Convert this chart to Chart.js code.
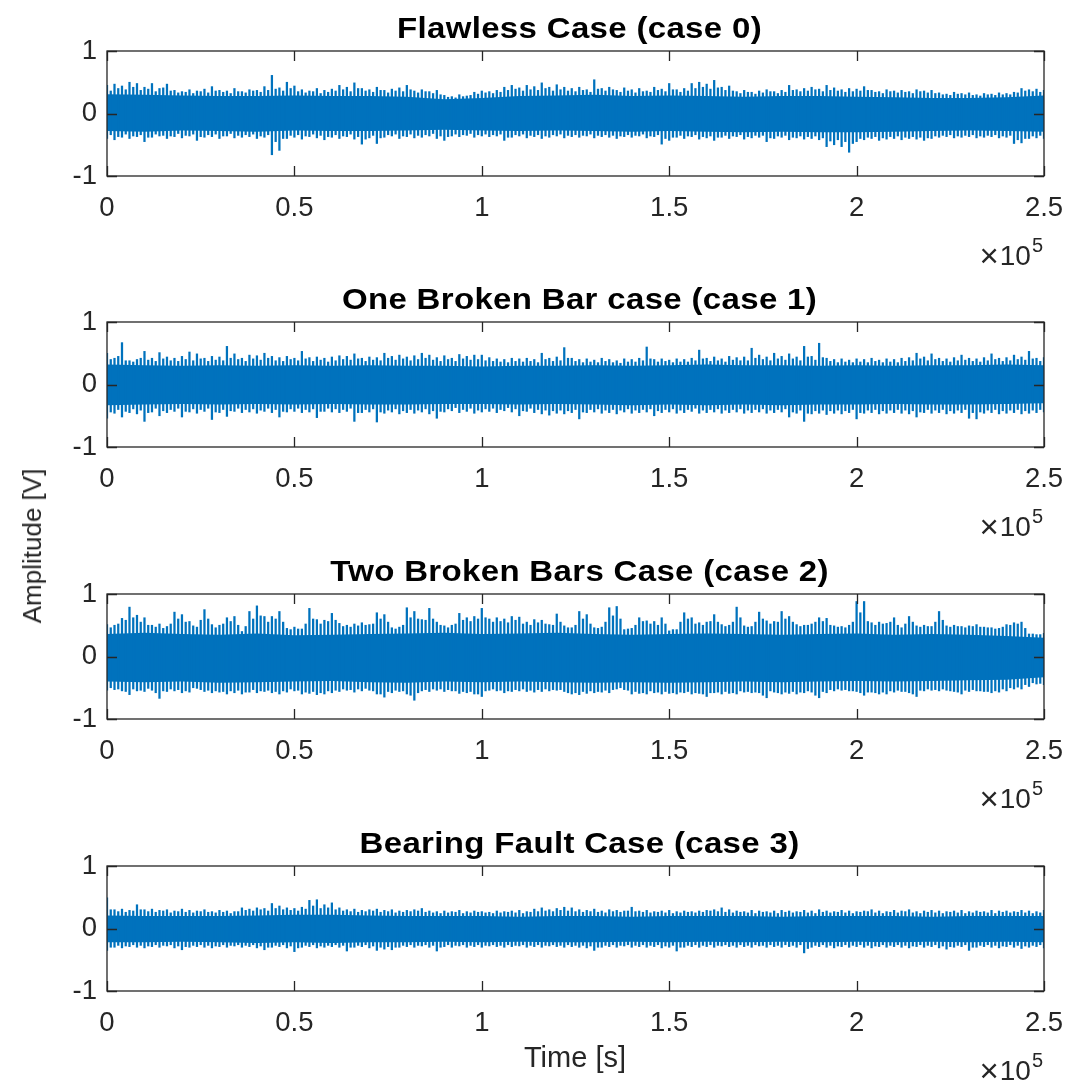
<!DOCTYPE html>
<html>
<head>
<meta charset="utf-8">
<script src="https://cdn.jsdelivr.net/npm/chart.js@4.4.1/dist/chart.umd.min.js"></script>
<style>
  html, body { margin: 0; padding: 0; background: #fff; }
  #fig { position: relative; width: 1072px; height: 1086px; overflow: hidden; background: #fff; }
  .panel { position: absolute; left: 0; width: 1072px; height: 272px; }
  .axlabel { position: absolute; font-family: "Liberation Sans", Arial, Helvetica, sans-serif;
             color: #262626; white-space: nowrap; line-height: 1; }
  #ylab { left: 32px; top: 546px; font-size: 26px; transform: translate(-50%, -50%) rotate(-90deg); }
  #xlab { left: 575px; top: 1057px; font-size: 29px; transform: translate(-50%, -50%); }
</style>
</head>
<body>
<div id="fig">
  <div class="panel" style="top:0px"><canvas id="c0" width="1072" height="272"></canvas></div>
  <div class="panel" style="top:271px"><canvas id="c1" width="1072" height="272"></canvas></div>
  <div class="panel" style="top:543px"><canvas id="c2" width="1072" height="272"></canvas></div>
  <div class="panel" style="top:815px"><canvas id="c3" width="1072" height="272"></canvas></div>
  <div class="axlabel" id="ylab">Amplitude [V]</div>
  <div class="axlabel" id="xlab">Time [s]</div>
</div>
<script>
// Panel titles
const titles = [
  'Flawless Case (case 0)',
  'One Broken Bar case (case 1)',
  'Two Broken Bars Case (case 2)',
  'Bearing Fault Case (case 3)'
];

// Axis ticks
const xTickValues = [0, 50000, 100000, 150000, 200000, 250000];
const xTickLabels = ['0', '0.5', '1', '1.5', '2', '2.5'];
const yTickValues = [-1, 0, 1];
const yTickLabels = ['-1', '0', '1'];

// Peak envelope of each signal: one max/min pair per 2000 samples
const peakStep = 2000;
// Secondary peaks, half-way between the main peak columns
const midOffset = 1000;
// Dense body of each signal, one value per 10000 samples
const bodyStep = 10000;

// ---------- case 0 ----------
const peakHi0 = [
  0.45,0.47,0.44,0.5,0.48,0.42,0.48,0.4,0.47,0.37,
  0.35,0.38,0.36,0.39,0.43,0.37,0.36,0.4,0.35,0.38,
  0.37,0.43,0.61,0.41,0.5,0.44,0.38,0.36,0.4,0.37,
  0.39,0.45,0.42,0.49,0.4,0.38,0.42,0.37,0.39,0.41,
  0.45,0.36,0.38,0.35,0.37,0.29,0.27,0.3,0.28,0.34,
  0.36,0.35,0.37,0.42,0.45,0.41,0.45,0.43,0.49,0.42,
  0.46,0.42,0.4,0.42,0.38,0.54,0.4,0.42,0.37,0.41,
  0.38,0.4,0.36,0.42,0.39,0.48,0.38,0.4,0.48,0.5,
  0.47,0.53,0.42,0.44,0.35,0.37,0.34,0.36,0.38,0.35,
  0.37,0.45,0.38,0.4,0.42,0.39,0.45,0.41,0.38,0.4,
  0.39,0.43,0.37,0.35,0.38,0.36,0.37,0.35,0.38,0.36,
  0.37,0.33,0.31,0.34,0.32,0.33,0.3,0.32,0.31,0.33,
  0.32,0.34,0.4,0.38,0.39,0.37
];
const peakLo0 = [
  -0.4,-0.42,-0.38,-0.4,-0.37,-0.45,-0.38,-0.36,-0.4,-0.37,
  -0.39,-0.36,-0.43,-0.38,-0.37,-0.4,-0.36,-0.39,-0.38,-0.37,
  -0.4,-0.38,-0.66,-0.59,-0.4,-0.38,-0.41,-0.37,-0.39,-0.42,
  -0.38,-0.4,-0.37,-0.41,-0.49,-0.39,-0.48,-0.38,-0.36,-0.4,
  -0.37,-0.39,-0.38,-0.36,-0.4,-0.43,-0.36,-0.37,-0.35,-0.38,
  -0.36,-0.37,-0.36,-0.43,-0.38,-0.36,-0.39,-0.37,-0.4,-0.38,
  -0.36,-0.39,-0.37,-0.38,-0.36,-0.39,-0.37,-0.38,-0.4,-0.37,
  -0.38,-0.36,-0.39,-0.37,-0.49,-0.43,-0.38,-0.4,-0.37,-0.41,
  -0.39,-0.43,-0.38,-0.4,-0.37,-0.41,-0.39,-0.38,-0.45,-0.4,
  -0.38,-0.42,-0.39,-0.41,-0.4,-0.42,-0.53,-0.5,-0.53,-0.62,
  -0.45,-0.42,-0.4,-0.43,-0.41,-0.4,-0.42,-0.4,-0.41,-0.43,
  -0.4,-0.38,-0.37,-0.39,-0.38,-0.37,-0.39,-0.38,-0.37,-0.39,
  -0.38,-0.48,-0.47,-0.4,-0.39,-0.4
];
const midHi0 = [
  0.36,0.4,0.38,0.42,0.37,0.39,0.35,0.41,0.36,0.33,
  0.34,0.32,0.35,0.33,0.36,0.34,0.32,0.35,0.33,0.36,
  0.34,0.37,0.39,0.36,0.4,0.35,0.33,0.35,0.32,0.34,
  0.36,0.38,0.35,0.4,0.36,0.34,0.37,0.33,0.36,0.35,
  0.38,0.33,0.35,0.32,0.3,0.26,0.25,0.27,0.29,0.31,
  0.33,0.32,0.34,0.37,0.39,0.36,0.38,0.37,0.4,0.36,
  0.38,0.36,0.35,0.37,0.34,0.39,0.36,0.38,0.34,0.36,
  0.33,0.35,0.34,0.37,0.35,0.38,0.34,0.36,0.4,0.42,
  0.39,0.41,0.37,0.36,0.32,0.34,0.31,0.33,0.35,0.32,
  0.34,0.37,0.35,0.36,0.38,0.35,0.37,0.36,0.34,0.35,
  0.36,0.37,0.34,0.32,0.35,0.33,0.34,0.32,0.35,0.33,
  0.32,0.3,0.29,0.31,0.3,0.29,0.28,0.3,0.29,0.3,
  0.3,0.33,0.36,0.35,0.34
];
const midLo0 = [
  -0.34,-0.37,-0.33,-0.36,-0.34,-0.38,-0.33,-0.35,-0.36,-0.32,
  -0.35,-0.33,-0.37,-0.34,-0.33,-0.36,-0.32,-0.35,-0.34,-0.33,
  -0.36,-0.34,-0.45,-0.4,-0.35,-0.34,-0.36,-0.33,-0.35,-0.37,
  -0.34,-0.36,-0.33,-0.37,-0.41,-0.35,-0.39,-0.34,-0.33,-0.36,
  -0.33,-0.35,-0.34,-0.32,-0.36,-0.37,-0.33,-0.34,-0.32,-0.34,
  -0.33,-0.34,-0.33,-0.38,-0.34,-0.33,-0.35,-0.34,-0.36,-0.34,
  -0.33,-0.35,-0.34,-0.35,-0.33,-0.35,-0.34,-0.35,-0.36,-0.34,
  -0.35,-0.33,-0.36,-0.34,-0.4,-0.38,-0.35,-0.36,-0.34,-0.37,
  -0.36,-0.38,-0.35,-0.36,-0.34,-0.37,-0.35,-0.35,-0.39,-0.36,
  -0.35,-0.38,-0.36,-0.37,-0.36,-0.39,-0.44,-0.42,-0.45,-0.48,
  -0.4,-0.38,-0.37,-0.39,-0.37,-0.36,-0.38,-0.37,-0.38,-0.39,
  -0.36,-0.35,-0.34,-0.36,-0.35,-0.34,-0.36,-0.35,-0.34,-0.36,
  -0.35,-0.42,-0.4,-0.36,-0.35
];
const bodyHi0 = [0.31,0.3,0.29,0.28,0.28,0.29,0.28,0.28,0.27,0.23,0.25,0.28,0.29,0.3,0.28,0.29,0.28,0.27,0.28,0.28,0.27,0.26,0.25,0.25,0.26,0.29];
const bodyLo0 = [-0.28,-0.29,-0.27,-0.28,-0.29,-0.27,-0.28,-0.28,-0.27,-0.26,-0.27,-0.28,-0.27,-0.28,-0.29,-0.28,-0.29,-0.3,-0.29,-0.3,-0.3,-0.29,-0.28,-0.27,-0.28,-0.29];

// ---------- case 1 ----------
const peakHi1 = [
  0.5,0.42,0.67,0.38,0.4,0.53,0.42,0.51,0.44,0.42,
  0.45,0.52,0.49,0.42,0.45,0.44,0.61,0.49,0.42,0.47,
  0.46,0.5,0.45,0.43,0.45,0.42,0.53,0.43,0.44,0.42,
  0.44,0.46,0.45,0.49,0.42,0.44,0.43,0.5,0.45,0.47,
  0.44,0.46,0.5,0.47,0.43,0.46,0.42,0.48,0.45,0.47,
  0.47,0.43,0.41,0.4,0.42,0.41,0.42,0.4,0.5,0.42,
  0.44,0.59,0.42,0.4,0.41,0.39,0.42,0.4,0.38,0.41,
  0.4,0.42,0.6,0.4,0.41,0.39,0.41,0.4,0.42,0.55,
  0.42,0.44,0.41,0.45,0.43,0.44,0.58,0.47,0.44,0.5,
  0.45,0.49,0.44,0.61,0.45,0.66,0.42,0.4,0.41,0.39,
  0.41,0.4,0.42,0.39,0.41,0.4,0.42,0.43,0.5,0.44,
  0.49,0.42,0.41,0.43,0.47,0.42,0.41,0.43,0.49,0.42,
  0.43,0.47,0.44,0.53,0.42,0.43
];
const peakLo1 = [
  -0.54,-0.46,-0.52,-0.45,-0.47,-0.59,-0.44,-0.5,-0.45,-0.43,
  -0.52,-0.44,-0.46,-0.43,-0.56,-0.45,-0.51,-0.43,-0.45,-0.44,
  -0.46,-0.43,-0.45,-0.52,-0.44,-0.43,-0.45,-0.44,-0.53,-0.43,
  -0.44,-0.45,-0.43,-0.59,-0.45,-0.44,-0.6,-0.46,-0.44,-0.47,
  -0.45,-0.46,-0.44,-0.47,-0.54,-0.44,-0.42,-0.45,-0.43,-0.46,
  -0.44,-0.43,-0.45,-0.42,-0.44,-0.5,-0.43,-0.45,-0.47,-0.49,
  -0.46,-0.47,-0.45,-0.55,-0.45,-0.44,-0.46,-0.45,-0.47,-0.44,
  -0.46,-0.45,-0.44,-0.5,-0.45,-0.44,-0.46,-0.45,-0.43,-0.46,
  -0.45,-0.44,-0.46,-0.45,-0.44,-0.46,-0.45,-0.44,-0.46,-0.45,
  -0.44,-0.52,-0.46,-0.59,-0.47,-0.46,-0.48,-0.46,-0.47,-0.45,
  -0.55,-0.46,-0.45,-0.47,-0.46,-0.45,-0.46,-0.47,-0.52,-0.45,
  -0.46,-0.45,-0.47,-0.46,-0.45,-0.54,-0.55,-0.46,-0.45,-0.47,
  -0.46,-0.45,-0.47,-0.46,-0.45,-0.44
];
const midHi1 = [
  0.4,0.45,0.38,0.36,0.42,0.39,0.37,0.41,0.38,0.37,
  0.4,0.38,0.41,0.37,0.39,0.38,0.42,0.4,0.37,0.41,
  0.39,0.42,0.38,0.37,0.4,0.38,0.41,0.37,0.39,0.36,
  0.38,0.4,0.39,0.41,0.37,0.39,0.38,0.42,0.39,0.41,
  0.38,0.4,0.42,0.39,0.37,0.4,0.37,0.41,0.39,0.4,
  0.38,0.37,0.36,0.35,0.37,0.36,0.37,0.35,0.4,0.37,
  0.38,0.42,0.37,0.35,0.36,0.35,0.37,0.35,0.34,0.36,
  0.36,0.38,0.41,0.36,0.37,0.35,0.36,0.36,0.38,0.41,
  0.37,0.38,0.36,0.39,0.38,0.38,0.42,0.4,0.38,0.41,
  0.39,0.41,0.38,0.44,0.39,0.43,0.37,0.35,0.36,0.35,
  0.36,0.35,0.37,0.35,0.36,0.35,0.37,0.38,0.41,0.38,
  0.4,0.37,0.36,0.38,0.39,0.37,0.36,0.38,0.4,0.37,
  0.38,0.4,0.39,0.41,0.37
];
const midLo1 = [
  -0.44,-0.4,-0.43,-0.39,-0.41,-0.45,-0.38,-0.42,-0.4,-0.38,
  -0.43,-0.39,-0.4,-0.38,-0.44,-0.4,-0.42,-0.38,-0.4,-0.39,
  -0.41,-0.38,-0.4,-0.43,-0.39,-0.38,-0.4,-0.39,-0.43,-0.38,
  -0.39,-0.4,-0.38,-0.45,-0.4,-0.39,-0.44,-0.41,-0.39,-0.42,
  -0.4,-0.41,-0.39,-0.42,-0.43,-0.39,-0.37,-0.4,-0.38,-0.41,
  -0.39,-0.38,-0.4,-0.37,-0.39,-0.42,-0.38,-0.4,-0.41,-0.42,
  -0.41,-0.42,-0.4,-0.44,-0.4,-0.39,-0.41,-0.4,-0.41,-0.39,
  -0.41,-0.4,-0.39,-0.42,-0.4,-0.39,-0.41,-0.4,-0.38,-0.41,
  -0.4,-0.39,-0.41,-0.4,-0.39,-0.41,-0.4,-0.39,-0.41,-0.4,
  -0.39,-0.44,-0.41,-0.46,-0.42,-0.41,-0.42,-0.41,-0.42,-0.4,
  -0.45,-0.41,-0.4,-0.42,-0.41,-0.4,-0.41,-0.42,-0.44,-0.4,
  -0.41,-0.4,-0.42,-0.41,-0.4,-0.45,-0.44,-0.41,-0.4,-0.42,
  -0.41,-0.4,-0.42,-0.41,-0.4
];
const bodyHi1 = [0.32,0.31,0.3,0.31,0.3,0.31,0.3,0.31,0.3,0.3,0.29,0.3,0.3,0.31,0.3,0.31,0.32,0.31,0.31,0.3,0.31,0.3,0.31,0.31,0.32,0.31];
const bodyLo1 = [-0.33,-0.32,-0.31,-0.32,-0.31,-0.32,-0.31,-0.32,-0.32,-0.31,-0.31,-0.32,-0.31,-0.32,-0.33,-0.32,-0.33,-0.32,-0.33,-0.32,-0.32,-0.31,-0.32,-0.32,-0.31,-0.3];

// ---------- case 2 ----------
const peakHi2 = [
  0.51,0.5,0.61,0.79,0.66,0.62,0.5,0.52,0.48,0.71,
  0.67,0.56,0.47,0.75,0.51,0.5,0.62,0.64,0.4,0.72,
  0.81,0.64,0.64,0.72,0.45,0.47,0.44,0.77,0.59,0.58,
  0.69,0.53,0.5,0.52,0.54,0.51,0.7,0.67,0.46,0.47,
  0.78,0.72,0.59,0.77,0.55,0.49,0.5,0.69,0.62,0.64,
  0.77,0.6,0.62,0.6,0.64,0.63,0.55,0.59,0.58,0.51,
  0.68,0.49,0.46,0.72,0.67,0.46,0.47,0.78,0.8,0.43,
  0.45,0.62,0.57,0.56,0.62,0.41,0.43,0.7,0.62,0.54,
  0.55,0.67,0.51,0.5,0.79,0.49,0.48,0.71,0.57,0.56,
  0.72,0.64,0.51,0.5,0.52,0.62,0.61,0.49,0.48,0.5,
  0.88,0.88,0.54,0.55,0.53,0.62,0.46,0.64,0.49,0.5,
  0.48,0.72,0.49,0.5,0.48,0.49,0.51,0.47,0.46,0.45,
  0.51,0.54,0.55,0.36,0.35,0.37
];
const peakLo2 = [
  -0.54,-0.53,-0.55,-0.61,-0.55,-0.56,-0.54,-0.67,-0.56,-0.55,
  -0.58,-0.57,-0.51,-0.56,-0.58,-0.57,-0.6,-0.58,-0.6,-0.57,
  -0.58,-0.56,-0.58,-0.6,-0.57,-0.55,-0.6,-0.59,-0.61,-0.6,
  -0.58,-0.56,-0.54,-0.57,-0.55,-0.54,-0.6,-0.65,-0.58,-0.56,
  -0.6,-0.7,-0.55,-0.56,-0.54,-0.56,-0.55,-0.59,-0.58,-0.6,
  -0.64,-0.54,-0.55,-0.58,-0.56,-0.55,-0.56,-0.57,-0.56,-0.55,
  -0.54,-0.56,-0.6,-0.61,-0.59,-0.58,-0.57,-0.58,-0.52,-0.53,
  -0.6,-0.59,-0.6,-0.58,-0.6,-0.59,-0.6,-0.58,-0.6,-0.59,
  -0.64,-0.58,-0.6,-0.59,-0.6,-0.57,-0.58,-0.58,-0.66,-0.57,
  -0.6,-0.59,-0.6,-0.58,-0.57,-0.66,-0.58,-0.55,-0.54,-0.55,
  -0.56,-0.62,-0.57,-0.6,-0.6,-0.57,-0.56,-0.58,-0.64,-0.55,
  -0.54,-0.55,-0.54,-0.56,-0.6,-0.56,-0.55,-0.56,-0.58,-0.57,
  -0.55,-0.52,-0.52,-0.48,-0.44,-0.45
];
const midHi2 = [
  0.46,0.52,0.58,0.62,0.55,0.5,0.47,0.45,0.52,0.6,
  0.55,0.49,0.58,0.6,0.46,0.52,0.56,0.5,0.48,0.6,
  0.65,0.55,0.6,0.55,0.43,0.44,0.52,0.6,0.52,0.56,
  0.58,0.48,0.47,0.49,0.5,0.52,0.6,0.55,0.44,0.5,
  0.62,0.6,0.58,0.6,0.5,0.46,0.52,0.58,0.56,0.6,
  0.62,0.55,0.56,0.54,0.58,0.52,0.5,0.54,0.52,0.5,
  0.55,0.46,0.5,0.6,0.52,0.45,0.55,0.65,0.6,0.44,
  0.5,0.56,0.52,0.5,0.52,0.43,0.55,0.6,0.52,0.5,
  0.56,0.55,0.48,0.55,0.62,0.47,0.55,0.6,0.52,0.55,
  0.6,0.55,0.48,0.5,0.55,0.56,0.5,0.47,0.46,0.55,
  0.7,0.56,0.5,0.52,0.55,0.5,0.52,0.55,0.47,0.48,
  0.55,0.58,0.47,0.48,0.46,0.48,0.47,0.46,0.44,0.47,
  0.5,0.52,0.45,0.36,0.35
];
const midLo2 = [
  -0.5,-0.52,-0.56,-0.52,-0.54,-0.51,-0.58,-0.55,-0.52,-0.53,
  -0.55,-0.5,-0.53,-0.54,-0.55,-0.56,-0.55,-0.54,-0.57,-0.53,
  -0.55,-0.54,-0.56,-0.55,-0.52,-0.54,-0.57,-0.56,-0.58,-0.55,
  -0.54,-0.52,-0.53,-0.52,-0.51,-0.55,-0.6,-0.56,-0.54,-0.55,
  -0.62,-0.58,-0.53,-0.52,-0.52,-0.53,-0.55,-0.56,-0.56,-0.6,
  -0.55,-0.52,-0.54,-0.55,-0.53,-0.52,-0.54,-0.53,-0.52,-0.53,
  -0.53,-0.58,-0.58,-0.56,-0.55,-0.56,-0.54,-0.53,-0.5,-0.54,
  -0.56,-0.58,-0.55,-0.57,-0.56,-0.58,-0.57,-0.56,-0.58,-0.6,
  -0.58,-0.57,-0.56,-0.58,-0.55,-0.56,-0.57,-0.62,-0.55,-0.58,
  -0.57,-0.56,-0.57,-0.55,-0.62,-0.56,-0.53,-0.52,-0.53,-0.55,
  -0.58,-0.57,-0.58,-0.57,-0.55,-0.54,-0.56,-0.6,-0.54,-0.52,
  -0.53,-0.52,-0.55,-0.57,-0.54,-0.53,-0.55,-0.56,-0.55,-0.52,
  -0.5,-0.49,-0.45,-0.42,-0.43
];
const bodyHi2 = [0.36,0.38,0.36,0.35,0.37,0.34,0.35,0.36,0.37,0.38,0.36,0.37,0.38,0.36,0.35,0.36,0.37,0.36,0.35,0.36,0.37,0.35,0.36,0.35,0.33,0.3];
const bodyLo2 = [-0.4,-0.41,-0.4,-0.42,-0.41,-0.4,-0.39,-0.41,-0.42,-0.4,-0.41,-0.4,-0.41,-0.42,-0.41,-0.42,-0.41,-0.4,-0.41,-0.4,-0.39,-0.4,-0.39,-0.38,-0.37,-0.33];

// ---------- case 3 ----------
const peakHi3 = [
  0.49,0.3,0.31,0.29,0.38,0.3,0.31,0.29,0.3,0.28,
  0.31,0.29,0.28,0.3,0.27,0.29,0.28,0.27,0.33,0.31,
  0.33,0.32,0.4,0.36,0.33,0.32,0.34,0.45,0.46,0.38,
  0.41,0.33,0.3,0.31,0.29,0.3,0.31,0.29,0.3,0.28,
  0.29,0.3,0.32,0.28,0.27,0.28,0.27,0.29,0.27,0.28,
  0.27,0.26,0.28,0.27,0.28,0.29,0.27,0.31,0.33,0.3,
  0.32,0.34,0.33,0.3,0.29,0.31,0.28,0.3,0.29,0.28,
  0.34,0.28,0.29,0.27,0.28,0.29,0.27,0.28,0.27,0.28,
  0.29,0.3,0.33,0.3,0.28,0.27,0.29,0.28,0.27,0.28,
  0.29,0.28,0.27,0.29,0.28,0.3,0.28,0.27,0.29,0.28,
  0.27,0.28,0.3,0.28,0.27,0.29,0.28,0.3,0.27,0.28,
  0.29,0.28,0.27,0.28,0.29,0.27,0.28,0.27,0.29,0.28,
  0.28,0.27,0.29,0.28,0.27,0.29
];
const peakLo3 = [
  -0.35,-0.3,-0.31,-0.29,-0.3,-0.31,-0.29,-0.3,-0.28,-0.31,
  -0.34,-0.3,-0.29,-0.3,-0.31,-0.29,-0.3,-0.28,-0.3,-0.29,
  -0.31,-0.34,-0.3,-0.29,-0.31,-0.37,-0.3,-0.29,-0.31,-0.3,
  -0.29,-0.3,-0.36,-0.3,-0.29,-0.31,-0.35,-0.33,-0.34,-0.3,
  -0.29,-0.3,-0.28,-0.3,-0.36,-0.29,-0.3,-0.28,-0.3,-0.29,
  -0.3,-0.28,-0.29,-0.3,-0.29,-0.28,-0.3,-0.29,-0.3,-0.28,
  -0.29,-0.3,-0.29,-0.3,-0.31,-0.35,-0.3,-0.29,-0.3,-0.28,
  -0.3,-0.29,-0.3,-0.29,-0.31,-0.3,-0.36,-0.3,-0.29,-0.3,
  -0.29,-0.3,-0.28,-0.29,-0.3,-0.29,-0.3,-0.28,-0.3,-0.29,
  -0.3,-0.29,-0.3,-0.39,-0.3,-0.29,-0.3,-0.31,-0.29,-0.3,
  -0.29,-0.3,-0.31,-0.29,-0.3,-0.29,-0.3,-0.31,-0.29,-0.3,
  -0.29,-0.31,-0.33,-0.3,-0.29,-0.35,-0.3,-0.29,-0.3,-0.31,
  -0.29,-0.3,-0.32,-0.3,-0.29,-0.31
];
const midHi3 = [
  0.3,0.27,0.26,0.28,0.3,0.27,0.26,0.28,0.25,0.27,
  0.26,0.25,0.27,0.26,0.25,0.26,0.24,0.27,0.29,0.28,
  0.3,0.28,0.32,0.3,0.29,0.28,0.31,0.36,0.32,0.33,
  0.3,0.28,0.27,0.26,0.27,0.28,0.26,0.27,0.25,0.26,
  0.27,0.28,0.26,0.25,0.24,0.25,0.26,0.24,0.25,0.26,
  0.25,0.24,0.25,0.26,0.25,0.24,0.26,0.27,0.28,0.27,
  0.29,0.28,0.27,0.26,0.27,0.26,0.25,0.27,0.26,0.28,
  0.27,0.26,0.25,0.26,0.25,0.24,0.25,0.26,0.25,0.26,
  0.28,0.27,0.26,0.25,0.26,0.25,0.24,0.26,0.25,0.24,
  0.26,0.25,0.26,0.25,0.24,0.26,0.25,0.26,0.25,0.24,
  0.26,0.27,0.25,0.24,0.26,0.25,0.27,0.25,0.24,0.26,
  0.25,0.24,0.26,0.25,0.24,0.25,0.26,0.25,0.24,0.26,
  0.25,0.26,0.25,0.24,0.25
];
const midLo3 = [
  -0.3,-0.27,-0.28,-0.26,-0.27,-0.28,-0.26,-0.27,-0.26,-0.28,
  -0.29,-0.27,-0.26,-0.27,-0.28,-0.26,-0.27,-0.26,-0.27,-0.26,
  -0.28,-0.3,-0.27,-0.26,-0.28,-0.31,-0.27,-0.26,-0.28,-0.27,
  -0.26,-0.27,-0.3,-0.27,-0.26,-0.28,-0.3,-0.29,-0.3,-0.27,
  -0.26,-0.27,-0.26,-0.27,-0.3,-0.26,-0.27,-0.26,-0.27,-0.26,
  -0.27,-0.26,-0.27,-0.26,-0.27,-0.26,-0.27,-0.26,-0.27,-0.26,
  -0.27,-0.26,-0.27,-0.27,-0.28,-0.3,-0.27,-0.26,-0.27,-0.26,
  -0.27,-0.26,-0.27,-0.26,-0.28,-0.27,-0.3,-0.27,-0.26,-0.27,
  -0.26,-0.27,-0.26,-0.27,-0.26,-0.27,-0.26,-0.27,-0.26,-0.27,
  -0.26,-0.27,-0.26,-0.32,-0.27,-0.26,-0.27,-0.28,-0.26,-0.27,
  -0.26,-0.27,-0.28,-0.26,-0.27,-0.26,-0.27,-0.28,-0.26,-0.27,
  -0.26,-0.28,-0.29,-0.27,-0.26,-0.3,-0.27,-0.26,-0.27,-0.28,
  -0.26,-0.27,-0.28,-0.27,-0.26
];
const bodyHi3 = [0.21,0.2,0.2,0.2,0.21,0.22,0.22,0.21,0.2,0.2,0.2,0.19,0.2,0.2,0.19,0.2,0.2,0.2,0.19,0.2,0.2,0.2,0.19,0.2,0.2,0.2];
const bodyLo3 = [-0.22,-0.22,-0.21,-0.22,-0.23,-0.22,-0.23,-0.22,-0.22,-0.21,-0.22,-0.21,-0.22,-0.22,-0.21,-0.22,-0.21,-0.22,-0.21,-0.22,-0.21,-0.22,-0.21,-0.22,-0.21,-0.22];

const signals = [
  { hi: peakHi0, lo: peakLo0, midHi: midHi0, midLo: midLo0, bodyHi: bodyHi0, bodyLo: bodyLo0 },
  { hi: peakHi1, lo: peakLo1, midHi: midHi1, midLo: midLo1, bodyHi: bodyHi1, bodyLo: bodyLo1 },
  { hi: peakHi2, lo: peakLo2, midHi: midHi2, midLo: midLo2, bodyHi: bodyHi2, bodyLo: bodyLo2 },
  { hi: peakHi3, lo: peakLo3, midHi: midHi3, midLo: midLo3, bodyHi: bodyHi3, bodyLo: bodyLo3 }
];

const LINE_BLUE = '#0072BD';
const AXIS_GREY = '#262626';
const FONT = '"Liberation Sans", Arial, Helvetica, sans-serif';

Chart.defaults.font.family = FONT;
Chart.defaults.color = AXIS_GREY;

// Box, inward tick marks, panel title and the x10^5 exponent label
const boxedAxes = {
  id: 'boxedAxes',
  afterDraw(chart, args, opts) {
    const { ctx, chartArea: a, scales: { x, y } } = chart;
    const tick = 10;
    ctx.save();
    ctx.strokeStyle = AXIS_GREY;
    ctx.lineWidth = 1.3;
    ctx.beginPath();
    x.ticks.forEach(t => {
      const px = Math.round(x.getPixelForValue(t.value)) + 0.5;
      ctx.moveTo(px, a.bottom); ctx.lineTo(px, a.bottom - tick);
      ctx.moveTo(px, a.top); ctx.lineTo(px, a.top + tick);
    });
    y.ticks.forEach(t => {
      const py = Math.round(y.getPixelForValue(t.value)) + 0.5;
      ctx.moveTo(a.left, py); ctx.lineTo(a.left + tick, py);
      ctx.moveTo(a.right, py); ctx.lineTo(a.right - tick, py);
    });
    ctx.stroke();
    ctx.strokeRect(a.left, a.top, a.right - a.left, a.bottom - a.top);

    // panel title (slightly widened bold face)
    ctx.save();
    ctx.fillStyle = '#000';
    ctx.textAlign = 'center';
    ctx.textBaseline = 'alphabetic';
    ctx.font = 'bold 30px ' + FONT;
    if ('letterSpacing' in ctx) ctx.letterSpacing = '0.3px';
    ctx.translate((a.left + a.right) / 2 + 4, a.top - 13.5);
    ctx.scale(1.1, 1);
    ctx.fillText(opts.title, 0, 0);
    ctx.restore();

    // exponent label under the right end of the x axis
    ctx.fillStyle = AXIS_GREY;
    ctx.textAlign = 'right';
    ctx.textBaseline = 'alphabetic';
    ctx.font = '20px ' + FONT;
    const supW = ctx.measureText('5').width;
    ctx.fillText('5', a.right - 1, a.bottom + 76);
    ctx.font = '28px ' + FONT;
    const tenW = ctx.measureText('10').width;
    const tenRight = a.right - 1 - supW - 1;
    ctx.fillText('10', tenRight, a.bottom + 89);
    ctx.font = '33px ' + FONT;
    ctx.fillText('\u00D7', tenRight - tenW - 1, a.bottom + 91);
    ctx.restore();
  }
};

function makePanel(idx) {
  const s = signals[idx];
  const peaks = s.hi.map((h, k) => ({ x: k * peakStep, y: [s.lo[k], h] }));
  const mids = s.midHi.map((h, k) => ({ x: k * peakStep + midOffset, y: [s.midLo[k], h] }));
  const bodyTop = s.bodyHi.map((v, k) => ({ x: k * bodyStep, y: v }));
  const bodyBottom = s.bodyLo.map((v, k) => ({ x: k * bodyStep, y: v }));

  new Chart(document.getElementById('c' + idx), {
    type: 'line',
    data: {
      datasets: [
        { type: 'line', data: bodyTop, borderWidth: 0, pointRadius: 0, fill: false,
          backgroundColor: LINE_BLUE, borderColor: LINE_BLUE, order: 3 },
        { type: 'line', data: bodyBottom, borderWidth: 0, pointRadius: 0, fill: '-1',
          backgroundColor: LINE_BLUE, borderColor: LINE_BLUE, order: 3 },
        { type: 'bar', data: mids, backgroundColor: LINE_BLUE, borderWidth: 0,
          barThickness: 1.6, grouped: false, order: 2 },
        { type: 'bar', data: peaks, backgroundColor: LINE_BLUE, borderWidth: 0,
          barThickness: 1.6, grouped: false, order: 1 }
      ]
    },
    options: {
      responsive: false,
      animation: false,
      events: [],
      layout: { padding: { left: 47, right: 28, top: 51, bottom: 0 } },
      plugins: {
        legend: { display: false },
        title: { display: false },
        tooltip: { enabled: false },
        boxedAxes: { title: titles[idx] }
      },
      scales: {
        x: {
          type: 'linear', min: 0, max: 250000, offset: false,
          afterBuildTicks: sc => { sc.ticks = xTickValues.map(v => ({ value: v })); },
          afterFit: sc => { sc.height = 96; sc.paddingLeft = 0; sc.paddingRight = 0; },
          grid: { display: false, drawTicks: false },
          border: { display: false },
          ticks: {
            autoSkip: false, maxRotation: 0, padding: 16,
            font: { size: 27.5 }, color: AXIS_GREY,
            callback: (v) => xTickLabels[xTickValues.indexOf(v)]
          }
        },
        y: {
          type: 'linear', min: -1, max: 1,
          afterBuildTicks: sc => { sc.ticks = yTickValues.map(v => ({ value: v })); },
          afterFit: sc => { sc.width = 60; sc.paddingTop = 0; sc.paddingBottom = 0; },
          grid: { display: false, drawTicks: false },
          border: { display: false },
          ticks: {
            padding: 10, font: { size: 27.5 }, color: AXIS_GREY,
            callback: (v) => yTickLabels[yTickValues.indexOf(v)]
          }
        }
      }
    },
    plugins: [boxedAxes]
  });
}

for (let i = 0; i < 4; i++) makePanel(i);
</script>
</body>
</html>
